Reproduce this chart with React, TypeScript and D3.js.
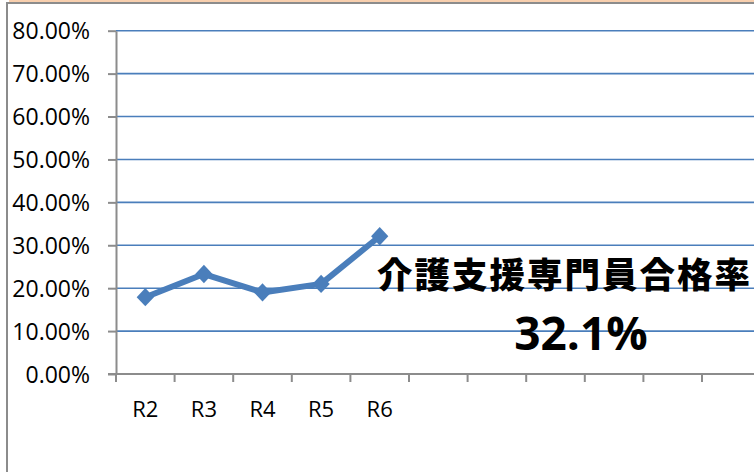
import React, { useEffect, useRef } from 'react';
import * as d3 from 'd3';

// chart data
const categories = ['R2', 'R3', 'R4', 'R5', 'R6'];
const passRates = [0.179, 0.233, 0.19, 0.21, 0.321];
const slotCount = 11; // empty category slots continue past the last label
const yTicks = [0, 0.1, 0.2, 0.3, 0.4, 0.5, 0.6, 0.7, 0.8];
const titleText = '介護支援専門員合格率';
const valueText = '32.1%';

const W = 754;
const H = 472;

const App = () => {
  const ref = useRef<SVGSVGElement>(null);

  useEffect(() => {
    const svg = d3.select(ref.current);
    svg.selectAll('*').remove();

    const left = 116, top = 30.7, bottom = 374;
    const bandW = 58.6;

    // chart frame
    svg.append('rect').attr('x', 9).attr('y', 0).attr('width', W).attr('height', 2).attr('fill', '#f8cfae');
    svg.append('path').attr('d', `M7,${H} V3 H${W}`).attr('fill', 'none').attr('stroke', '#8c8c8c').attr('stroke-width', 2);

    const x = d3.scaleBand<number>()
      .domain(d3.range(slotCount))
      .range([left, left + bandW * slotCount]);
    const y = d3.scaleLinear().domain([0, 0.8]).range([bottom, top]);

    // gridlines
    svg.append('g')
      .selectAll('line')
      .data(yTicks.slice(1))
      .join('line')
      .attr('x1', left).attr('x2', W)
      .attr('y1', d => y(d)).attr('y2', d => y(d))
      .attr('stroke', '#4a7ebb').attr('stroke-width', 1.6);

    // y axis
    const yAxis = svg.append('g')
      .attr('transform', `translate(${left},0)`)
      .call(d3.axisLeft(y).tickValues(yTicks).tickSize(8).tickSizeOuter(0).tickPadding(18).tickFormat(d3.format('.2%')));
    yAxis.select('.domain').attr('stroke', '#8c8c8c').attr('stroke-width', 2);
    yAxis.selectAll('.tick line').attr('stroke', '#8c8c8c').attr('stroke-width', 2);
    yAxis.selectAll('.tick text')
      .attr('fill', '#000').attr('font-size', 23).attr('font-family', 'Open Sans, sans-serif').attr('dy', '0.35em');

    // x axis
    const xAxisG = svg.append('g').attr('transform', `translate(0,${bottom})`);
    xAxisG.append('line').attr('x1', left - 8).attr('x2', W).attr('y1', 0).attr('y2', 0)
      .attr('stroke', '#8c8c8c').attr('stroke-width', 2);
    xAxisG.selectAll('line.tk')
      .data(d3.range(slotCount + 1))
      .join('line')
      .attr('class', 'tk')
      .attr('x1', i => left + bandW * i).attr('x2', i => left + bandW * i)
      .attr('y1', 0).attr('y2', 8)
      .attr('stroke', '#8c8c8c').attr('stroke-width', 2);
    xAxisG.selectAll('text')
      .data(categories)
      .join('text')
      .attr('x', (d, i) => (x(i) as number) + x.bandwidth() / 2)
      .attr('y', 43)
      .attr('text-anchor', 'middle')
      .attr('font-size', 22)
      .attr('font-family', 'Open Sans, sans-serif')
      .attr('fill', '#000')
      .text(d => d);

    // line + markers
    const pts = passRates.map((v, i) => [(x(i) as number) + x.bandwidth() / 2, y(v)] as [number, number]);
    svg.append('path')
      .attr('d', d3.line()(pts))
      .attr('fill', 'none')
      .attr('stroke', '#4a7ebb')
      .attr('stroke-width', 6)
      .attr('stroke-linejoin', 'round');
    svg.append('g')
      .selectAll('path')
      .data(pts)
      .join('path')
      .attr('d', d3.symbol(d3.symbolDiamond2, 190)())
      .attr('transform', d => `translate(${d[0]},${d[1]}) scale(1,1.06)`)
      .attr('fill', '#4a7ebb');

    // annotation
    svg.append('text')
      .attr('x', 377).attr('y', 288)
      .attr('font-size', 35.5)
      .attr('font-weight', 900)
      .attr('letter-spacing', 2)
      .attr('font-family', 'Noto Sans CJK JP, sans-serif')
      .attr('fill', '#000')
      .text(titleText);
    svg.append('text')
      .attr('x', 581).attr('y', 350)
      .attr('text-anchor', 'middle')
      .attr('font-size', 46)
      .attr('font-weight', 'bold')
      .attr('font-family', 'Open Sans, sans-serif')
      .attr('fill', '#000')
      .text(valueText);
  }, []);

  return (
    <svg ref={ref} width={W} height={H}
      style={{ position: 'absolute', left: 0, top: 0, background: '#fff' }} />
  );
};

export default App;
